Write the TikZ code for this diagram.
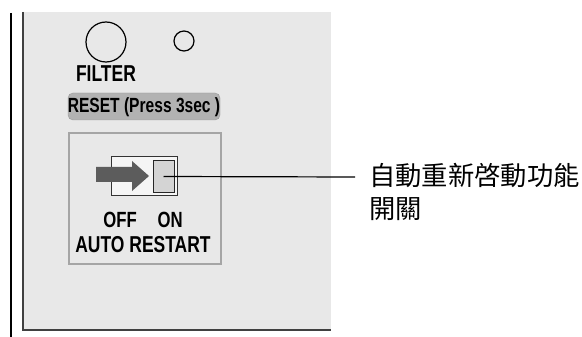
\documentclass[tikz,border=0pt]{standalone}
\usepackage{fontspec}
\setmainfont{Liberation Sans}
\newfontfamily\condfont[FakeStretch=0.76]{Liberation Sans}
\newfontfamily\cjk{Noto Sans CJK TC}
\definecolor{panelgray}{RGB}{232,232,232}
\definecolor{pillgray}{RGB}{178,178,178}
\definecolor{boxedge}{RGB}{165,165,165}
\definecolor{arrowgray}{RGB}{92,92,92}
\definecolor{knobgray}{RGB}{212,212,212}
\tikzset{
  lbl/.style={inner sep=0pt, font=\condfont\bfseries},
  cjklbl/.style={inner sep=0pt, align=left, font=\cjk\fontsize{26.3}{33}\selectfont},
}
\begin{document}
\begin{tikzpicture}[x=1pt,y=-1pt]
\useasboundingbox (0,0) rectangle (582,337);
\fill[white] (0,0) rectangle (582,337);
% panel
\fill[panelgray] (23,12) rectangle (331,330);
\draw[line width=1.3pt, black!75] (23,12) -- (23,330) -- (331,330);
\draw[line width=2.2pt] (11,13) -- (11,337);
% circles
\node[draw, circle, line width=1.2pt, minimum size=40pt, inner sep=0pt] (big) at (106,42) {};
\node[draw, circle, line width=1.2pt, minimum size=20pt, inner sep=0pt] (small) at (184,41) {};
\node[lbl, font=\condfont\bfseries\fontsize{23}{23}\selectfont] (filter) at (106,74) {FILTER};
% reset pill
\node[fill=pillgray, draw=black!40, rounded corners=5pt, minimum width=152pt, minimum height=27pt, inner sep=0pt] (pill) at (144,106.5) {};
\node[lbl, font=\condfont\bfseries\fontsize{20.5}{21}\selectfont] (reset) at (144,107) {RESET (Press 3sec )};
% switch box
\node[draw=boxedge, fill=panelgray, line width=1.8pt, minimum width=152pt, minimum height=131pt, inner sep=0pt] (swbox) at (145,198.5) {};
\node[draw=black!80, fill=black!4, line width=1pt, minimum width=66pt, minimum height=38pt, inner sep=0pt] (sw) at (144,176) {};
\node[draw=black!85, fill=knobgray, line width=1pt, minimum width=21pt, minimum height=31pt, inner sep=0pt] (knob) at (163.5,176.5) {};
\fill[arrowgray] (96,167) -- (132,167) -- (132,161) -- (149,176) -- (132,191) -- (132,182) -- (96,182) -- cycle;
\node[lbl, font=\condfont\bfseries\fontsize{22}{22}\selectfont] (offon) at (143,220) {OFF\hspace{0.95em}ON};
\node[lbl, font=\condfont\bfseries\fontsize{23}{23}\selectfont] (auto) at (143,245) {AUTO RESTART};
% callout
\coordinate (lineend) at (355,177);
\draw[line width=1.2pt] (knob.center) -- (lineend);
\node[cjklbl, anchor=north west] (callout) at (369,163) {自動重新啓動功能\\開關};
\end{tikzpicture}
\end{document}
